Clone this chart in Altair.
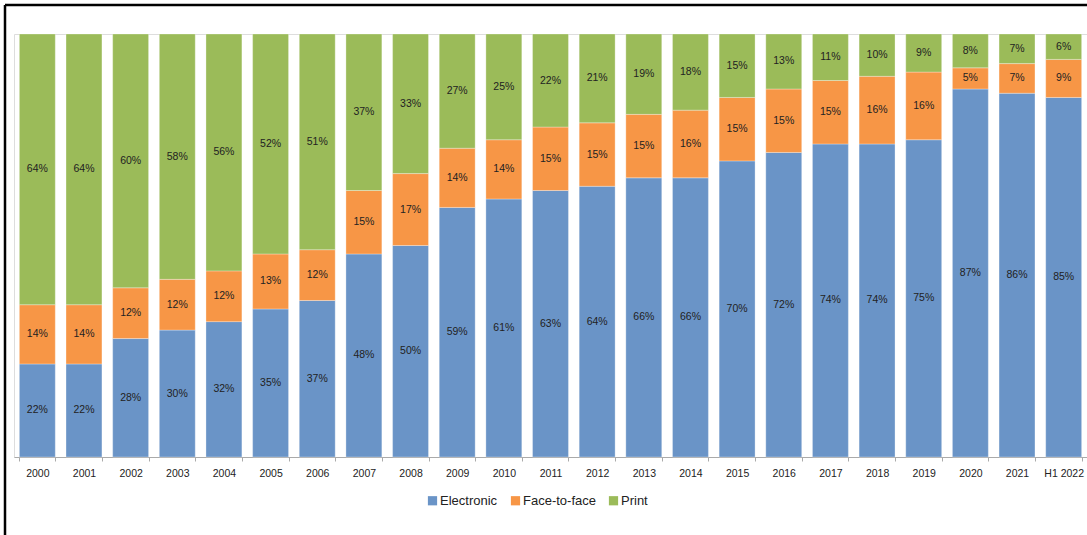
import altair as alt
import pandas as pd

# Share of each channel per year (percent)
years = ["2000", "2001", "2002", "2003", "2004", "2005", "2006", "2007", "2008",
         "2009", "2010", "2011", "2012", "2013", "2014", "2015", "2016", "2017",
         "2018", "2019", "2020", "2021", "H1 2022"]
electronic = [22, 22, 28, 30, 32, 35, 37, 48, 50, 59, 61, 63, 64, 66, 66, 70, 72, 74, 74, 75, 87, 86, 85]
face_to_face = [14, 14, 12, 12, 12, 13, 12, 15, 17, 14, 14, 15, 15, 15, 16, 15, 15, 15, 16, 16, 5, 7, 9]
print_share = [64, 64, 60, 58, 56, 52, 51, 37, 33, 27, 25, 22, 21, 19, 18, 15, 13, 11, 10, 9, 8, 7, 6]

channels = ["Electronic", "Face-to-face", "Print"]
colors = ["#6a94c7", "#f79646", "#9bbb59"]

rows = []
for i, yr in enumerate(years):
    for k, (name, vals) in enumerate(zip(channels, [electronic, face_to_face, print_share])):
        rows.append({"year": yr, "channel": name, "order": k, "value": vals[i]})
df = pd.DataFrame(rows)

W, H = 1073, 423

base = alt.Chart(df).transform_stack(
    stack="value", groupby=["year"], as_=["v0", "v1"],
    sort=[alt.SortField("order", order="ascending")]
).transform_calculate(
    mid="(datum.v0 + datum.v1) / 2",
    label="datum.value + '%'"
)

xenc = alt.X("year:N", sort=years, title=None,
             scale=alt.Scale(paddingInner=0.23, paddingOuter=0.115),
             axis=alt.Axis(labelAngle=0, labelFont="Liberation Sans", labelFontSize=10.5,
                           labelColor="#222222", labelPadding=7, domainColor="#aaaaaa",
                           tickColor="#aaaaaa", tickSize=4, tickBand="extent", grid=False))
yscale = alt.Scale(domain=[0, 100], nice=False)

bars = base.mark_bar(stroke="#ffffff", strokeWidth=0.6, strokeOpacity=0.5).encode(
    x=xenc,
    y=alt.Y("v0:Q", scale=yscale, axis=None),
    y2="v1:Q",
    color=alt.Color("channel:N", sort=channels,
                    scale=alt.Scale(domain=channels, range=colors),
                    legend=alt.Legend(title=None, orient="none", legendX=412, legendY=460,
                                      direction="horizontal",
                                      symbolType="square", symbolSize=85, symbolStrokeWidth=0,
                                      labelFont="Liberation Sans", labelFontSize=13,
                                      labelColor="#222222", columnPadding=11, labelOffset=1)),
)

labels = base.mark_text(font="Liberation Sans", fontSize=10.5, color="#222222").encode(
    x=alt.X("year:N", sort=years),
    y=alt.Y("mid:Q", scale=yscale),
    text="label:N",
)

# Outer frame lines along the top and left of the canvas
frame_top = alt.Chart(pd.DataFrame({"a": [0]})).mark_rule(color="#000000", strokeWidth=2.5).encode(
    x=alt.value(-9), x2=alt.value(W + 20), y=alt.value(-29)
)
frame_left = alt.Chart(pd.DataFrame({"a": [0]})).mark_rule(color="#000000", strokeWidth=2.5).encode(
    x=alt.value(-9), y=alt.value(-29), y2=alt.value(H + 80)
)

chart = alt.layer(bars, labels, frame_top, frame_left).properties(
    width=W, height=H,
    autosize=alt.AutoSizeParams(type="none"),
    padding={"left": 14, "top": 34, "right": 0, "bottom": 78},
).configure_view(stroke=None).configure(background="white")

chart.save("out.html", embed_options={"renderer": "svg", "actions": False})
